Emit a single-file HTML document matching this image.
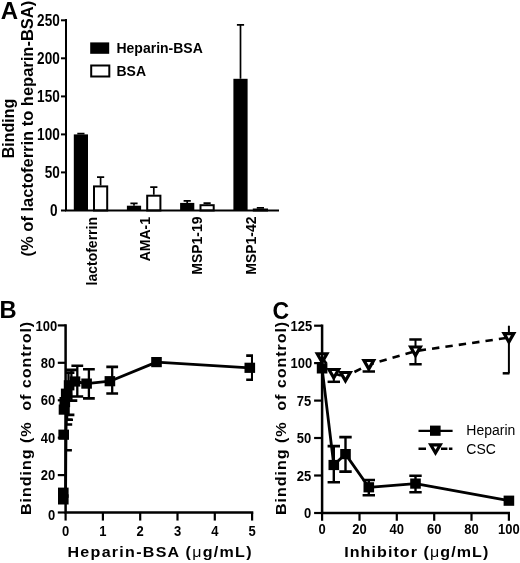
<!DOCTYPE html>
<html><head><meta charset="utf-8"><title>Figure</title>
<style>
html,body{margin:0;padding:0;background:#fff;}
body{width:520px;height:563px;overflow:hidden;font-family:"Liberation Sans",sans-serif;}
svg{display:block;will-change:transform;}
text{fill:#000;}
</style></head><body>
<svg width="520" height="563" viewBox="0 0 520 563">
<rect width="520" height="563" fill="#fff"/>
<g id="pA">
<rect x="73.8" y="134.4" width="14.2" height="76.1" fill="#000"/>
<path d="M80.9 134.4V133.6M77.3 133.6H84.5" stroke="#000" stroke-width="1.7" fill="none"/>
<rect x="126.9" y="205.7" width="14.2" height="4.8" fill="#000"/>
<path d="M134.0 205.7V203.4M130.4 203.4H137.6" stroke="#000" stroke-width="1.7" fill="none"/>
<rect x="180.1" y="202.9" width="14.2" height="7.6" fill="#000"/>
<path d="M187.2 202.9V200.8M183.6 200.8H190.8" stroke="#000" stroke-width="1.7" fill="none"/>
<rect x="233.4" y="78.8" width="14.2" height="131.7" fill="#000"/>
<path d="M240.5 78.8V24.8M236.9 24.8H244.1" stroke="#000" stroke-width="1.7" fill="none"/>
<rect x="94.0" y="186.4" width="13.2" height="24.1" fill="#fff" stroke="#000" stroke-width="2"/>
<path d="M100.6 185.4V177.2M97.0 177.2H104.2" stroke="#000" stroke-width="1.7" fill="none"/>
<rect x="147.2" y="195.7" width="13.2" height="14.8" fill="#fff" stroke="#000" stroke-width="2"/>
<path d="M153.8 194.7V187.1M150.2 187.1H157.4" stroke="#000" stroke-width="1.7" fill="none"/>
<rect x="200.5" y="205.2" width="13.2" height="5.3" fill="#fff" stroke="#000" stroke-width="2"/>
<path d="M207.1 204.2V203.2M203.5 203.2H210.7" stroke="#000" stroke-width="1.7" fill="none"/>
<rect x="253.8" y="209.5" width="13.2" height="1.0" fill="#fff" stroke="#000" stroke-width="2"/>
<path d="M260.4 208.5V207.9M256.8 207.9H264.0" stroke="#000" stroke-width="1.7" fill="none"/>
<path d="M66.0 19V211.5M65.0 210.5H279" stroke="#000" stroke-width="2" fill="none"/>
<path d="M61.0 210.5H66.0" stroke="#000" stroke-width="2"/>
<text transform="translate(57.6,215.8) scale(1,1.15)" text-anchor="end" font-family="Liberation Sans, sans-serif" font-weight="bold" font-size="13.6">0</text>
<path d="M61.0 172.4H66.0" stroke="#000" stroke-width="2"/>
<text transform="translate(59.8,177.8) scale(1,1.15)" text-anchor="end" font-family="Liberation Sans, sans-serif" font-weight="bold" font-size="13.6">50</text>
<path d="M61.0 134.4H66.0" stroke="#000" stroke-width="2"/>
<text transform="translate(59.8,139.7) scale(1,1.15)" text-anchor="end" font-family="Liberation Sans, sans-serif" font-weight="bold" font-size="13.6">100</text>
<path d="M61.0 96.4H66.0" stroke="#000" stroke-width="2"/>
<text transform="translate(59.8,101.7) scale(1,1.15)" text-anchor="end" font-family="Liberation Sans, sans-serif" font-weight="bold" font-size="13.6">150</text>
<path d="M61.0 58.3H66.0" stroke="#000" stroke-width="2"/>
<text transform="translate(59.8,63.6) scale(1,1.15)" text-anchor="end" font-family="Liberation Sans, sans-serif" font-weight="bold" font-size="13.6">200</text>
<path d="M61.0 20.3H66.0" stroke="#000" stroke-width="2"/>
<text transform="translate(59.8,25.6) scale(1,1.15)" text-anchor="end" font-family="Liberation Sans, sans-serif" font-weight="bold" font-size="13.6">250</text>
<text transform="translate(96.9,217.0) rotate(-90)" text-anchor="end" font-family="Liberation Sans, sans-serif" font-weight="bold" font-size="14">lactoferrin</text>
<text transform="translate(149.8,217.0) rotate(-90)" text-anchor="end" font-family="Liberation Sans, sans-serif" font-weight="bold" font-size="14">AMA-1</text>
<text transform="translate(202.4,216.4) rotate(-90)" text-anchor="end" font-family="Liberation Sans, sans-serif" font-weight="bold" font-size="14">MSP1-19</text>
<text transform="translate(255.5,216.4) rotate(-90)" text-anchor="end" font-family="Liberation Sans, sans-serif" font-weight="bold" font-size="14">MSP1-42</text>
<text transform="translate(13.6,128.6) rotate(-90)" text-anchor="middle" font-family="Liberation Sans, sans-serif" font-weight="bold" font-size="16">Binding</text>
<text transform="translate(33.2,128.6) rotate(-90) scale(1,1.05)" text-anchor="middle" font-family="Liberation Sans, sans-serif" font-weight="bold" font-size="16.5">(% of lactoferrin to heparin-BSA)</text>
<rect x="90.2" y="42.4" width="19" height="11.4" fill="#000"/>
<rect x="91.2" y="65.5" width="18.1" height="11" fill="#fff" stroke="#000" stroke-width="2"/>
<text transform="translate(116.5,53.4) scale(1,1.06)" font-family="Liberation Sans, sans-serif" font-weight="bold" font-size="14">Heparin-BSA</text>
<text transform="translate(116.5,76.3) scale(1,1.06)" font-family="Liberation Sans, sans-serif" font-weight="bold" font-size="14">BSA</text>
<text x="0.8" y="18.9" font-family="Liberation Sans, sans-serif" font-weight="bold" font-size="24">A</text>
</g>
<g id="pB">
<clipPath id="clB"><rect x="65.6" y="300" width="187.4" height="230"/></clipPath>
<path d="M65.6 499.4 L65.6 492.7 L65.9 434.7 L66.2 409.6 L66.8 402.1 L67.9 393.7 L70.2 385.3 L75.0 381.5 L86.6 383.6 L109.9 381.2 L156.5 362.1 L249.8 367.8" stroke="#000" stroke-width="2.8" fill="none" stroke-linejoin="round"/>
<g clip-path="url(#clB)">
<path d="M66.0 419.7V450.2" stroke="#000" stroke-width="2.3" fill="none"/>
<path d="M60.1 419.7H71.9M60.1 450.2H71.9" stroke="#000" stroke-width="2.6" fill="none"/>
<path d="M66.3 394.7V424.5" stroke="#000" stroke-width="2.3" fill="none"/>
<path d="M60.4 394.7H72.2M60.4 424.5H72.2" stroke="#000" stroke-width="2.6" fill="none"/>
<path d="M67.1 384.5V419.7" stroke="#000" stroke-width="2.3" fill="none"/>
<path d="M61.2 384.5H73.0M61.2 419.7H73.0" stroke="#000" stroke-width="2.6" fill="none"/>
<path d="M68.5 372.6V414.9" stroke="#000" stroke-width="2.3" fill="none"/>
<path d="M62.6 372.6H74.4M62.6 414.9H74.4" stroke="#000" stroke-width="2.6" fill="none"/>
<path d="M71.4 369.9V400.6" stroke="#000" stroke-width="2.3" fill="none"/>
<path d="M65.5 369.9H77.3M65.5 400.6H77.3" stroke="#000" stroke-width="2.6" fill="none"/>
<path d="M77.3 365.8V396.5" stroke="#000" stroke-width="2.3" fill="none"/>
<path d="M71.4 365.8H83.2M71.4 396.5H83.2" stroke="#000" stroke-width="2.6" fill="none"/>
<path d="M88.9 369.2V398.4" stroke="#000" stroke-width="2.3" fill="none"/>
<path d="M83.0 369.2H94.8M83.0 398.4H94.8" stroke="#000" stroke-width="2.6" fill="none"/>
<path d="M112.2 366.9V393.5" stroke="#000" stroke-width="2.3" fill="none"/>
<path d="M106.3 366.9H118.1M106.3 393.5H118.1" stroke="#000" stroke-width="2.6" fill="none"/>
<path d="M252.1 355.6V379.8" stroke="#000" stroke-width="2.3" fill="none"/>
<path d="M246.2 355.6H258.0M246.2 379.8H258.0" stroke="#000" stroke-width="2.6" fill="none"/>
</g>
<rect x="58.0" y="494.3" width="10.6" height="10.2" fill="#000"/>
<rect x="58.0" y="487.6" width="10.6" height="10.2" fill="#000"/>
<rect x="58.4" y="429.6" width="10.6" height="10.2" fill="#000"/>
<rect x="58.7" y="404.5" width="10.6" height="10.2" fill="#000"/>
<rect x="59.5" y="397.0" width="10.6" height="10.2" fill="#000"/>
<rect x="60.9" y="388.6" width="10.6" height="10.2" fill="#000"/>
<rect x="63.8" y="380.2" width="10.6" height="10.2" fill="#000"/>
<rect x="69.7" y="376.4" width="10.6" height="10.2" fill="#000"/>
<rect x="81.3" y="378.5" width="10.6" height="10.2" fill="#000"/>
<rect x="104.6" y="376.1" width="10.6" height="10.2" fill="#000"/>
<rect x="151.2" y="357.0" width="10.6" height="10.2" fill="#000"/>
<rect x="244.5" y="362.7" width="10.6" height="10.2" fill="#000"/>
<path d="M65.6 324.3V513.75M64.6 512.55H253.3" stroke="#000" stroke-width="2.5" fill="none"/>
<path d="M57.8 512.5H65.6" stroke="#000" stroke-width="2.2"/>
<text transform="translate(55.3,519.7) scale(1,1.1)" text-anchor="end" font-family="Liberation Sans, sans-serif" font-weight="bold" font-size="13.0">0</text>
<path d="M57.8 475.1H65.6" stroke="#000" stroke-width="2.2"/>
<text transform="translate(55.3,480.3) scale(1,1.1)" text-anchor="end" font-family="Liberation Sans, sans-serif" font-weight="bold" font-size="13.0">20</text>
<path d="M57.8 437.7H65.6" stroke="#000" stroke-width="2.2"/>
<text transform="translate(55.3,442.8) scale(1,1.1)" text-anchor="end" font-family="Liberation Sans, sans-serif" font-weight="bold" font-size="13.0">40</text>
<path d="M57.8 400.3H65.6" stroke="#000" stroke-width="2.2"/>
<text transform="translate(55.3,405.4) scale(1,1.1)" text-anchor="end" font-family="Liberation Sans, sans-serif" font-weight="bold" font-size="13.0">60</text>
<path d="M57.8 362.8H65.6" stroke="#000" stroke-width="2.2"/>
<text transform="translate(55.3,368.0) scale(1,1.1)" text-anchor="end" font-family="Liberation Sans, sans-serif" font-weight="bold" font-size="13.0">80</text>
<path d="M57.8 325.4H65.6" stroke="#000" stroke-width="2.2"/>
<text transform="translate(57.2,330.5) scale(1,1.1)" text-anchor="end" font-family="Liberation Sans, sans-serif" font-weight="bold" font-size="13.0">100</text>
<path d="M65.6 512.55V520.55" stroke="#000" stroke-width="2.2"/>
<text transform="translate(65.6,536.0) scale(1,1.1)" text-anchor="middle" font-family="Liberation Sans, sans-serif" font-weight="bold" font-size="13.0">0</text>
<path d="M102.9 512.55V520.55" stroke="#000" stroke-width="2.2"/>
<text transform="translate(102.9,536.0) scale(1,1.1)" text-anchor="middle" font-family="Liberation Sans, sans-serif" font-weight="bold" font-size="13.0">1</text>
<path d="M140.2 512.55V520.55" stroke="#000" stroke-width="2.2"/>
<text transform="translate(140.2,536.0) scale(1,1.1)" text-anchor="middle" font-family="Liberation Sans, sans-serif" font-weight="bold" font-size="13.0">2</text>
<path d="M177.5 512.55V520.55" stroke="#000" stroke-width="2.2"/>
<text transform="translate(177.5,536.0) scale(1,1.1)" text-anchor="middle" font-family="Liberation Sans, sans-serif" font-weight="bold" font-size="13.0">3</text>
<path d="M214.8 512.55V520.55" stroke="#000" stroke-width="2.2"/>
<text transform="translate(214.8,536.0) scale(1,1.1)" text-anchor="middle" font-family="Liberation Sans, sans-serif" font-weight="bold" font-size="13.0">4</text>
<path d="M252.1 512.55V520.55" stroke="#000" stroke-width="2.2"/>
<text transform="translate(252.1,536.0) scale(1,1.1)" text-anchor="middle" font-family="Liberation Sans, sans-serif" font-weight="bold" font-size="13.0">5</text>
<text transform="translate(67.5,557.4) scale(1.1,1)" font-family="Liberation Sans, sans-serif" font-weight="bold" font-size="14.6" letter-spacing="1.16">Heparin-BSA (<tspan font-weight="normal">μ</tspan>g/mL)</text>
<text transform="translate(31.3,515.0) rotate(-90) scale(1.04,1)" font-family="Liberation Sans, sans-serif" font-weight="bold" font-size="15.5" letter-spacing="0.9" xml:space="preserve">Binding (%  of control)</text>
<text x="-0.6" y="317.7" font-family="Liberation Sans, sans-serif" font-weight="bold" font-size="23.7">B</text>
</g>
<g id="pC">
<path d="M322.1 368.4 L333.8 465.0 L345.5 454.1 L368.8 487.3 L415.5 483.6 L508.9 500.7" stroke="#000" stroke-width="2.8" fill="none" stroke-linejoin="round"/>
<path d="M322.1 357.9L333.8 373.6" stroke="#000" stroke-width="2.6" fill="none" stroke-dasharray="7.4 6.1" stroke-dashoffset="0"/>
<path d="M333.8 373.6L345.5 376.6" stroke="#000" stroke-width="2.6" fill="none" stroke-dasharray="7.4 6.1" stroke-dashoffset="0"/>
<path d="M345.5 376.6L368.8 364.6" stroke="#000" stroke-width="2.6" fill="none" stroke-dasharray="7.4 6.1" stroke-dashoffset="3.44"/>
<path d="M368.8 364.6L415.5 351.1" stroke="#000" stroke-width="2.6" fill="none" stroke-dasharray="7.4 6.1" stroke-dashoffset="2.3"/>
<path d="M415.5 351.1L508.9 337.6" stroke="#000" stroke-width="2.6" fill="none" stroke-dasharray="7.4 6.1" stroke-dashoffset="10.3"/>
<path d="M333.8 446.1V482.2" stroke="#000" stroke-width="2.4" fill="none"/>
<path d="M327.6 446.1H340.0M327.6 482.2H340.0" stroke="#000" stroke-width="2.6" fill="none"/>
<path d="M345.5 437.1V471.6" stroke="#000" stroke-width="2.4" fill="none"/>
<path d="M339.3 437.1H351.7M339.3 471.6H351.7" stroke="#000" stroke-width="2.6" fill="none"/>
<path d="M368.8 480.0V495.3" stroke="#000" stroke-width="2.4" fill="none"/>
<path d="M362.6 480.0H375.0M362.6 495.3H375.0" stroke="#000" stroke-width="2.6" fill="none"/>
<path d="M415.5 475.8V492.3" stroke="#000" stroke-width="2.4" fill="none"/>
<path d="M409.3 475.8H421.7M409.3 492.3H421.7" stroke="#000" stroke-width="2.6" fill="none"/>
<rect x="316.8" y="363.3" width="10.6" height="10.2" fill="#000"/>
<rect x="328.5" y="459.9" width="10.6" height="10.2" fill="#000"/>
<rect x="340.2" y="449.0" width="10.6" height="10.2" fill="#000"/>
<rect x="363.5" y="482.2" width="10.6" height="10.2" fill="#000"/>
<rect x="410.2" y="478.5" width="10.6" height="10.2" fill="#000"/>
<rect x="503.6" y="495.6" width="10.6" height="10.2" fill="#000"/>
<path d="M333.8 373.6V381.8" stroke="#000" stroke-width="2.0" fill="none"/>
<path d="M327.6 381.8H340.0" stroke="#000" stroke-width="2.5" fill="none"/>
<path d="M368.8 364.6V371.5" stroke="#000" stroke-width="2.0" fill="none"/>
<path d="M362.6 371.5H375.0" stroke="#000" stroke-width="2.5" fill="none"/>
<path d="M415.5 339.4V364.2" stroke="#000" stroke-width="2.0" fill="none"/>
<path d="M409.3 339.4H421.7M409.3 364.2H421.7" stroke="#000" stroke-width="2.5" fill="none"/>
<path d="M508.9 325.7V373.3" stroke="#000" stroke-width="2.0" fill="none"/>
<path d="M502.7 373.3H509.5" stroke="#000" stroke-width="2.5" fill="none"/>
<path d="M317.30 353.77H326.90L322.10 362.17Z" fill="#fff" stroke="#000" stroke-width="3.2" stroke-linejoin="miter"/>
<path d="M328.98 369.50H338.58L333.78 377.90Z" fill="#fff" stroke="#000" stroke-width="3.2" stroke-linejoin="miter"/>
<path d="M340.65 372.50H350.25L345.45 380.90Z" fill="#fff" stroke="#000" stroke-width="3.2" stroke-linejoin="miter"/>
<path d="M364.00 360.51H373.60L368.80 368.91Z" fill="#fff" stroke="#000" stroke-width="3.2" stroke-linejoin="miter"/>
<path d="M410.70 347.02H420.30L415.50 355.42Z" fill="#fff" stroke="#000" stroke-width="3.2" stroke-linejoin="miter"/>
<path d="M504.10 333.54H513.70L508.90 341.94Z" fill="#fff" stroke="#000" stroke-width="3.2" stroke-linejoin="miter"/>
<path d="M322.1 324.5V514.1500000000001M321.1 512.95H510" stroke="#000" stroke-width="2.5" fill="none"/>
<path d="M314.1 513.0H322.1" stroke="#000" stroke-width="2.2"/>
<text transform="translate(311.2,518.1) scale(1,1.1)" text-anchor="end" font-family="Liberation Sans, sans-serif" font-weight="bold" font-size="13.0">0</text>
<path d="M314.1 475.5H322.1" stroke="#000" stroke-width="2.2"/>
<text transform="translate(311.2,480.6) scale(1,1.1)" text-anchor="end" font-family="Liberation Sans, sans-serif" font-weight="bold" font-size="13.0">25</text>
<path d="M314.1 438.0H322.1" stroke="#000" stroke-width="2.2"/>
<text transform="translate(311.2,443.2) scale(1,1.1)" text-anchor="end" font-family="Liberation Sans, sans-serif" font-weight="bold" font-size="13.0">50</text>
<path d="M314.1 400.6H322.1" stroke="#000" stroke-width="2.2"/>
<text transform="translate(311.2,405.7) scale(1,1.1)" text-anchor="end" font-family="Liberation Sans, sans-serif" font-weight="bold" font-size="13.0">75</text>
<path d="M314.1 363.1H322.1" stroke="#000" stroke-width="2.2"/>
<text transform="translate(312.2,368.3) scale(1,1.1)" text-anchor="end" font-family="Liberation Sans, sans-serif" font-weight="bold" font-size="13.0">100</text>
<path d="M314.1 325.7H322.1" stroke="#000" stroke-width="2.2"/>
<text transform="translate(312.2,330.8) scale(1,1.1)" text-anchor="end" font-family="Liberation Sans, sans-serif" font-weight="bold" font-size="13.0">125</text>
<path d="M322.1 512.95V520.75" stroke="#000" stroke-width="2.2"/>
<text transform="translate(322.1,534.4) scale(1,1.1)" text-anchor="middle" font-family="Liberation Sans, sans-serif" font-weight="bold" font-size="13.0">0</text>
<path d="M359.5 512.95V520.75" stroke="#000" stroke-width="2.2"/>
<text transform="translate(359.5,534.4) scale(1,1.1)" text-anchor="middle" font-family="Liberation Sans, sans-serif" font-weight="bold" font-size="13.0">20</text>
<path d="M396.8 512.95V520.75" stroke="#000" stroke-width="2.2"/>
<text transform="translate(396.8,534.4) scale(1,1.1)" text-anchor="middle" font-family="Liberation Sans, sans-serif" font-weight="bold" font-size="13.0">40</text>
<path d="M434.2 512.95V520.75" stroke="#000" stroke-width="2.2"/>
<text transform="translate(434.2,534.4) scale(1,1.1)" text-anchor="middle" font-family="Liberation Sans, sans-serif" font-weight="bold" font-size="13.0">60</text>
<path d="M471.5 512.95V520.75" stroke="#000" stroke-width="2.2"/>
<text transform="translate(471.5,534.4) scale(1,1.1)" text-anchor="middle" font-family="Liberation Sans, sans-serif" font-weight="bold" font-size="13.0">80</text>
<path d="M508.9 512.95V520.75" stroke="#000" stroke-width="2.2"/>
<text transform="translate(508.9,534.4) scale(1,1.1)" text-anchor="middle" font-family="Liberation Sans, sans-serif" font-weight="bold" font-size="13.0">100</text>
<text transform="translate(344.2,557.4) scale(1.1,1)" font-family="Liberation Sans, sans-serif" font-weight="bold" font-size="14.6" letter-spacing="0.98">Inhibitor (<tspan font-weight="normal">μ</tspan>g/mL)</text>
<text transform="translate(286.2,515.0) rotate(-90) scale(1.04,1)" font-family="Liberation Sans, sans-serif" font-weight="bold" font-size="15.5" letter-spacing="0.9" xml:space="preserve">Binding (%  of control)</text>
<text x="272.5" y="318.6" font-family="Liberation Sans, sans-serif" font-weight="bold" font-size="23">C</text>
<path d="M418.5 430.8H452.6" stroke="#000" stroke-width="2.3"/>
<rect x="430.0" y="425.6" width="10.6" height="10.2" fill="#000"/>
<path d="M418.5 448.8H426M441 448.8H447.4M448.9 448.8H452.4" stroke="#000" stroke-width="2.5"/>
<path d="M430.7 444.9H440.3L435.5 452.9Z" fill="#fff" stroke="#000" stroke-width="3.1"/>
<text transform="translate(466.3,435.2) scale(1,1.1)" font-family="Liberation Sans, sans-serif" font-size="14">Heparin</text>
<text transform="translate(466.3,454.0) scale(1,1.1)" font-family="Liberation Sans, sans-serif" font-size="14">CSC</text>
</g>
</svg>
</body></html>
